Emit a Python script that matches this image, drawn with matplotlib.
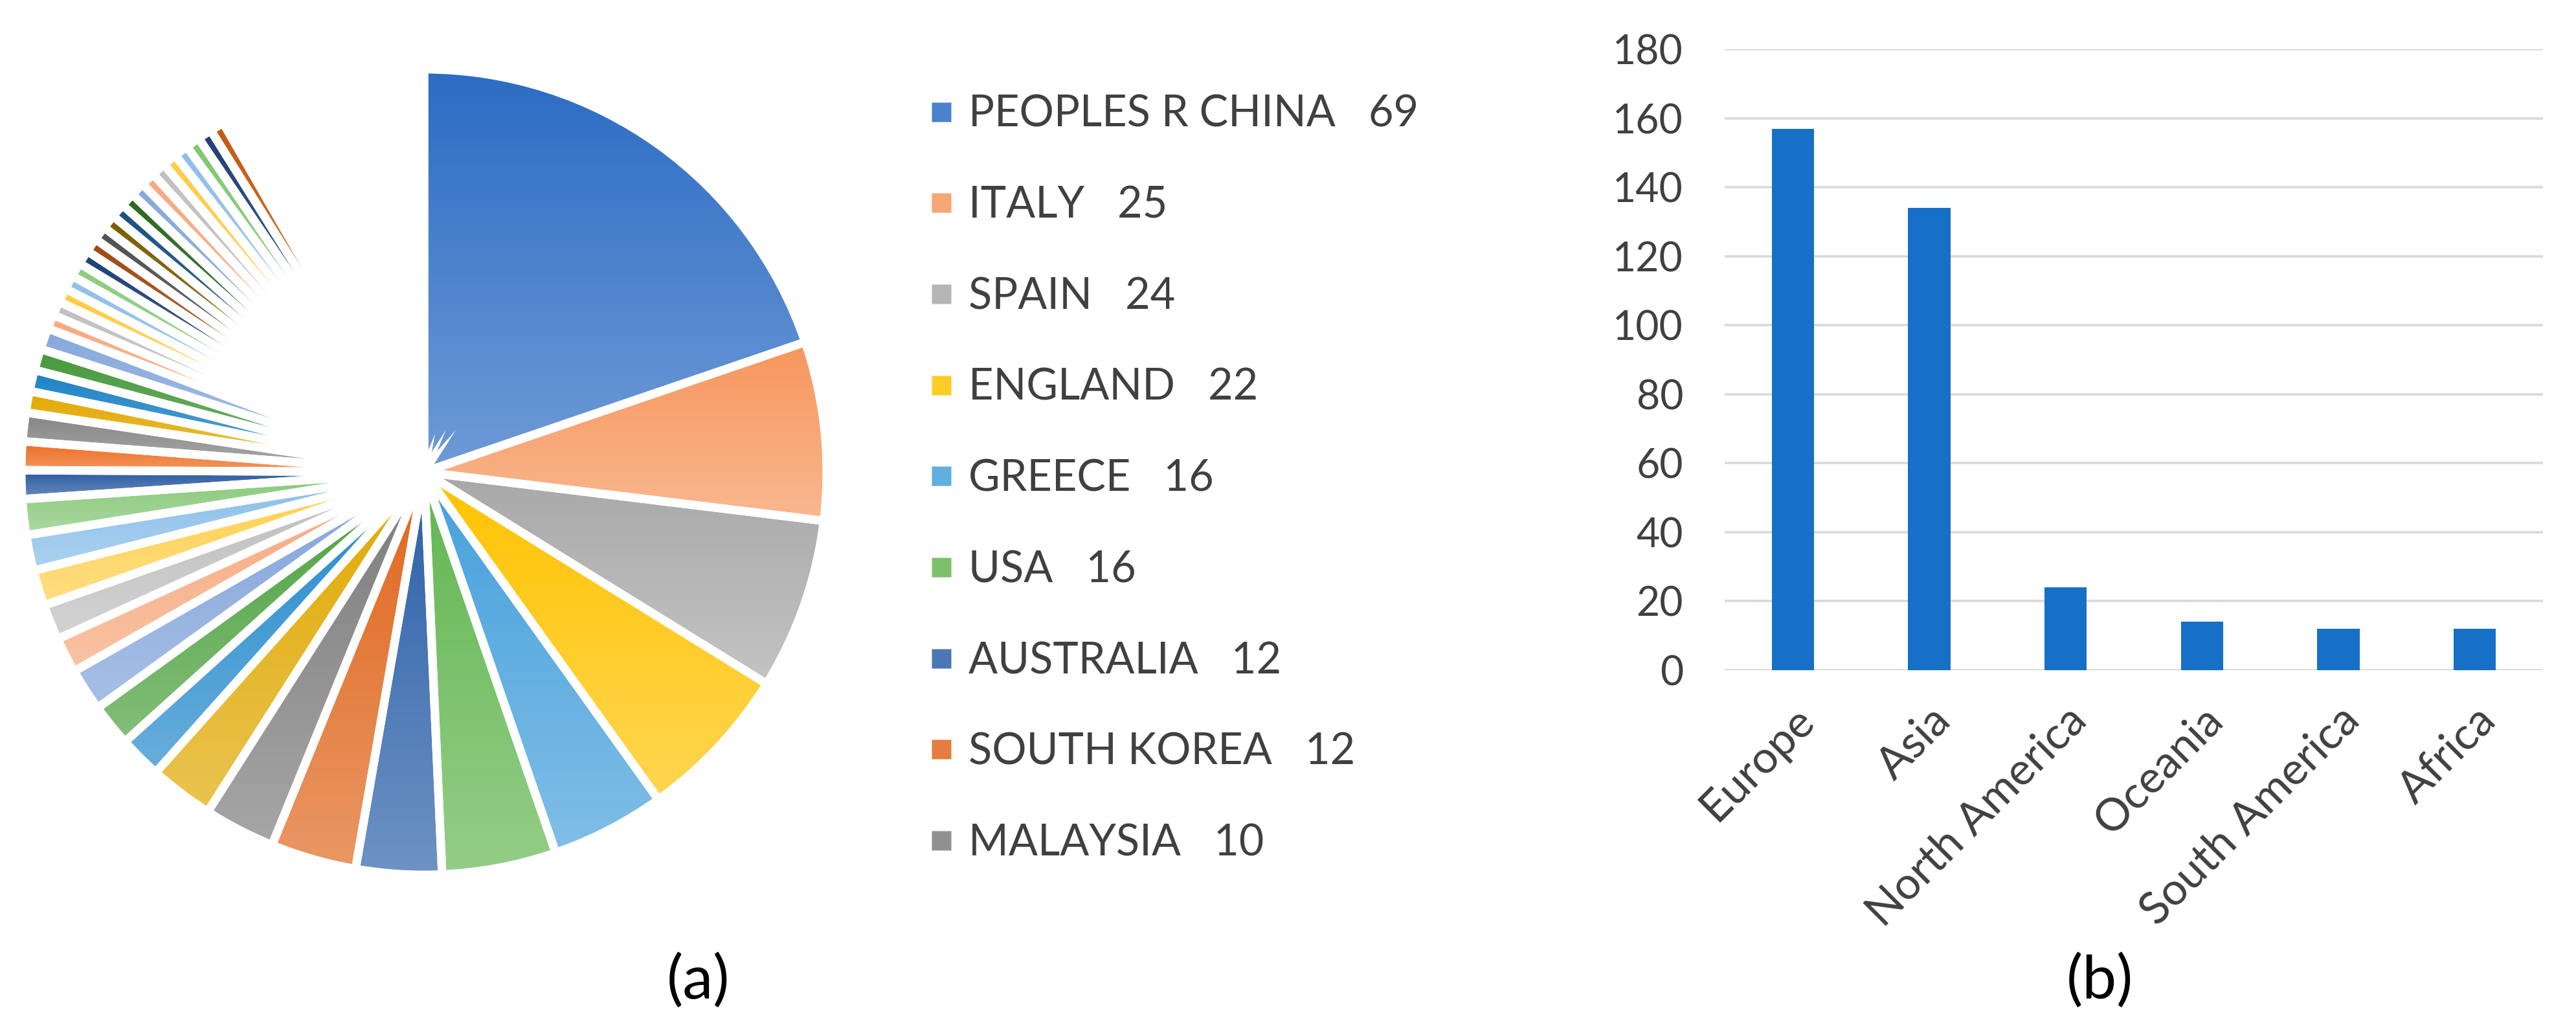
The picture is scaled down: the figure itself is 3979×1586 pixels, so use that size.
import numpy as np
import matplotlib
matplotlib.use("Agg")
import matplotlib.pyplot as plt
from matplotlib.colors import to_rgb
from matplotlib.lines import Line2D

plt.rcParams["font.family"] = ["Lato", "DejaVu Sans"]

# (a) publications per country, clockwise from 12 o'clock
countries = ["PEOPLES R CHINA", "ITALY", "SPAIN", "ENGLAND", "GREECE",
             "USA", "AUSTRALIA", "SOUTH KOREA", "MALAYSIA"]
country_counts = [69, 25, 24, 22, 16, 16, 12, 12, 10]
# remaining countries (not named in the legend)
other_counts = [9, 6, 6, 6, 5, 5, 5, 5, 5, 4, 4, 4, 3, 3, 3, 3,
                2, 2, 2, 2, 2, 2, 2, 2, 2, 2, 2, 2, 2, 2, 2, 2, 2, 2, 2,
                1, 1, 1, 1, 1, 1, 1, 1, 1, 1, 1, 1, 1, 1, 1, 1, 1, 1, 1, 1,
                1, 1, 1, 1, 1, 1, 1, 1, 1]

# (b) publications per continent
continents = ["Europe", "Asia", "North America", "Oceania", "South America", "Africa"]
continent_counts = [157, 134, 24, 14, 12, 12]

# Excel-like slice colours (top of the gradient)
slice_colors = [
    "#2b6cc4", "#f7965c", "#a8a8a8", "#ffc300", "#45a0dc", "#62b650",
    "#2a5fa8", "#e0661c", "#7c7c7c", "#e0a800", "#2288cc", "#4aa03c",
    "#7fa2da", "#f7a77a", "#bdbdbd", "#ffcf4a", "#86bde8", "#86c878",
    "#2858a0", "#ee6a1c", "#858585", "#e2a800", "#1c82c4", "#44983a",
    "#86a8dc", "#f9a880", "#c0c0c0", "#ffcc44", "#8ec0ea", "#8ccc7c",
    "#1e3f78", "#9e4a14", "#505050", "#7a5e00", "#1a5080", "#2a6820",
    "#86a8dc", "#f9a880", "#c0c0c0", "#ffcc44", "#8ec0ea", "#80c870",
    "#203e78", "#c55a11",
]
BAR_COLOR = "#1670c8"
TEXT_GRAY = "#404040"
W, H = 3979, 1586


def lighten(c, amount):
    r = np.array(to_rgb(c))
    return tuple(r + (1 - r) * amount)


fig = plt.figure(figsize=(W / 100, H / 100), dpi=100)

# ---------------- (a) pie with vertical gradient per slice ----------------
cx, cy, rad = 655, 729, 622
ax_pie = fig.add_axes([(cx - rad) / W, 1 - (cy + rad) / H, 2 * rad / W, 2 * rad / H])

values = country_counts + other_counts
wedges, _ = ax_pie.pie(values, startangle=90, counterclock=False, radius=1,
                       wedgeprops=dict(facecolor="none", edgecolor="white", linewidth=9.4))

for i, w in enumerate(wedges):
    top = np.array(to_rgb(slice_colors[i % len(slice_colors)]))
    bottom = np.array(lighten(slice_colors[i % len(slice_colors)], 0.32))
    t = np.linspace(w.theta1, w.theta2, 60)
    xs = np.concatenate([[0], np.cos(np.radians(t))])
    ys = np.concatenate([[0], np.sin(np.radians(t))])
    frac = np.linspace(0, 1, 128)[:, None]
    grad = (bottom[None, :] * (1 - frac) + top[None, :] * frac)[:, None, :]
    im = ax_pie.imshow(grad, extent=[xs.min(), xs.max(), ys.min(), ys.max()],
                       origin="lower", aspect="auto", zorder=0, interpolation="bilinear")
    im.set_clip_path(w)

ax_pie.set_xlim(-1, 1)
ax_pie.set_ylim(-1, 1)
ax_pie.set_axis_off()

handles = [Line2D([], [], marker="s", linestyle="none", markersize=21,
                  markerfacecolor=lighten(slice_colors[i], 0.15), markeredgecolor="none")
           for i in range(len(countries))]
labels = [f"{n}   {v}" for n, v in zip(countries, country_counts)]
fig.legend(handles, labels, loc="upper left", bbox_to_anchor=(1439 / W, 1 - 146 / H),
           frameon=False, fontsize=48, labelcolor=TEXT_GRAY, labelspacing=1.18,
           handlelength=0.45, handletextpad=0.4, borderpad=0, borderaxespad=0)

fig.text(1078 / W, 1 - 1515 / H, "(a)", ha="center", va="center", fontsize=68, color="black")

# ---------------- (b) bars per continent ----------------
ax_bar = fig.add_axes([2664 / W, 1 - 1035 / H, (3928 - 2664) / W, (1035 - 76) / H])
x = np.arange(len(continents))
ax_bar.bar(x, continent_counts, width=0.31, color=BAR_COLOR, zorder=2)
ax_bar.set_xlim(-0.5, len(continents) - 0.5)
ax_bar.set_ylim(0, 180)
ax_bar.set_yticks(np.arange(0, 181, 20))
ax_bar.yaxis.grid(True, color="#d9d9d9", linewidth=2.6, zorder=0)
ax_bar.set_axisbelow(True)
for s in ax_bar.spines.values():
    s.set_visible(False)
ax_bar.tick_params(axis="both", length=0, labelcolor=TEXT_GRAY)
ax_bar.tick_params(axis="y", pad=46, labelsize=45)
ax_bar.tick_params(axis="x", pad=32, labelsize=50)
ax_bar.set_xticks(x)
ax_bar.set_xticklabels(continents, rotation=45, ha="right", rotation_mode="anchor")

fig.text(3243 / W, 1 - 1515 / H, "(b)", ha="center", va="center", fontsize=68, color="black")

fig.savefig("out.png", dpi=100, facecolor="white")
